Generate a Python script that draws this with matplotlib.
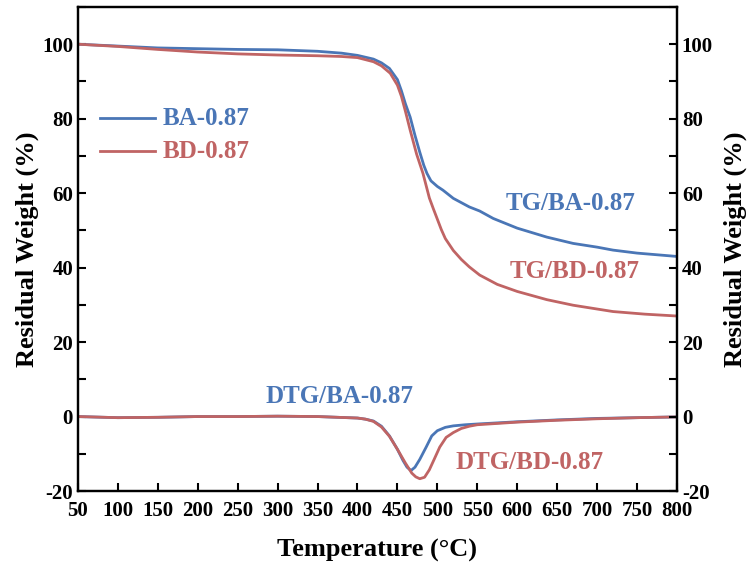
import matplotlib
matplotlib.use('Agg')
import matplotlib.pyplot as plt
import numpy as np
from matplotlib.ticker import MultipleLocator

matplotlib.rcParams['font.family'] = 'Liberation Serif'
matplotlib.rcParams['font.weight'] = 'bold'
matplotlib.rcParams['axes.linewidth'] = 1.6
matplotlib.rcParams['axes.unicode_minus'] = False

# TG curves (residual weight, %)
tg_temp_ba = [50, 100, 150, 200, 250, 300, 350, 380, 400, 420, 430, 440, 450,
              455, 460, 466, 472, 478, 483, 487, 492, 500, 507, 520, 540, 553,
              570, 600, 637, 670, 700, 720, 750, 800]
tg_ba = [100, 99.5, 99.0, 98.8, 98.6, 98.5, 98.1, 97.6, 97.0, 96.0, 95.0, 93.5,
         90.5, 87.5, 84.0, 80.4, 75.5, 71.0, 67.5, 65.3, 63.3, 61.8, 60.8, 58.6,
         56.3, 55.2, 53.2, 50.6, 48.2, 46.5, 45.5, 44.7, 43.9, 43.0]

tg_temp_bd = [50, 100, 150, 200, 250, 300, 350, 380, 400, 420, 430, 441, 450,
              455, 460, 466, 474, 482, 490, 495, 500, 505, 510, 520, 530, 540,
              553, 575, 600, 637, 670, 720, 760, 800]
tg_bd = [100, 99.4, 98.6, 97.9, 97.4, 97.1, 96.9, 96.7, 96.4, 95.3, 94.2, 92.2,
         89.0, 86.0, 82.0, 76.9, 70.5, 65.3, 58.7, 55.8, 53.0, 50.2, 47.8, 44.6,
         42.2, 40.2, 38.0, 35.5, 33.6, 31.4, 29.9, 28.2, 27.5, 27.0]

# DTG curves
dtg_temp_ba = [50, 100, 150, 200, 250, 300, 350, 400, 410, 420, 430, 440, 450,
               457, 462, 467, 472, 478, 486, 493, 500, 510, 520, 535, 550, 600,
               650, 700, 750, 800]
dtg_ba = [0, -0.3, -0.2, 0, 0, 0.1, 0, -0.4, -0.7, -1.2, -2.6, -5.2, -8.8,
          -11.8, -13.6, -14.5, -13.6, -11.5, -8.2, -5.2, -3.8, -2.9, -2.5, -2.2,
          -2.0, -1.4, -0.9, -0.5, -0.3, -0.1]

dtg_temp_bd = [50, 100, 150, 200, 250, 300, 350, 400, 410, 420, 430, 440, 450,
               460, 468, 473, 478, 484, 490, 496, 503, 511, 520, 530, 540, 550,
               600, 650, 700, 750, 800]
dtg_bd = [0, -0.3, -0.2, 0, 0, 0.1, 0, -0.4, -0.7, -1.3, -2.8, -5.3, -8.8,
          -12.5, -15.2, -16.2, -16.7, -16.3, -14.3, -11.5, -8.2, -5.6, -4.3,
          -3.2, -2.6, -2.2, -1.5, -1.0, -0.6, -0.3, -0.1]

blue = '#4a76b6'
red = '#c06464'

fig = plt.figure(figsize=(7.54, 5.67), dpi=100)
ax = fig.add_axes([0.1034, 0.134, 0.7944, 0.8537])

ax.plot(tg_temp_ba, tg_ba, color=blue, lw=2)
ax.plot(tg_temp_bd, tg_bd, color=red, lw=2)
ax.plot(dtg_temp_ba, dtg_ba, color=blue, lw=2)
ax.plot(dtg_temp_bd, dtg_bd, color=red, lw=2)

ax.set_xlim(50, 800)
ax.set_ylim(-20, 110)
ax.set_xticks(np.arange(50, 801, 50))
ax.set_yticks(np.arange(-20, 101, 20))
ax.yaxis.set_minor_locator(MultipleLocator(10))
ax.tick_params(axis='both', which='major', direction='in', length=6, width=1.5,
               labelsize=15)
ax.tick_params(axis='y', which='minor', direction='in', length=6, width=1.5)
ax.tick_params(axis='x', pad=7)
ax.set_xlabel('Temperature (°C)', fontsize=19, fontweight='bold', labelpad=13)
ax.set_ylabel('Residual Weight (%)', fontsize=19, fontweight='bold', labelpad=2)

ax2 = ax.twinx()
ax2.set_ylim(-20, 110)
ax2.set_yticks(np.arange(-20, 101, 20))
ax2.yaxis.set_minor_locator(MultipleLocator(10))
ax2.tick_params(axis='y', which='major', direction='in', length=6, width=1.5,
                labelsize=15)
ax2.tick_params(axis='y', which='minor', direction='in', length=6, width=1.5)
ax2.set_ylabel('Residual Weight (%)', fontsize=19, fontweight='bold',
               rotation=90, labelpad=8)

# legend
ax.plot([77, 146], [80.1, 80.1], color=blue, lw=2)
ax.plot([77, 146], [71.3, 71.3], color=red, lw=2)
ax.text(156, 80.1, 'BA-0.87', color=blue, fontsize=18, va='center')
ax.text(156, 71.3, 'BD-0.87', color=red, fontsize=18, va='center')

# curve labels
ax.text(667, 57.3, 'TG/BA-0.87', color=blue, fontsize=18, ha='center', va='center')
ax.text(672, 39, 'TG/BD-0.87', color=red, fontsize=18, ha='center', va='center')
ax.text(378, 5.4, 'DTG/BA-0.87', color=blue, fontsize=18, ha='center', va='center')
ax.text(615, -12.4, 'DTG/BD-0.87', color=red, fontsize=18, ha='center', va='center')

fig.savefig('out.png', dpi=100)
